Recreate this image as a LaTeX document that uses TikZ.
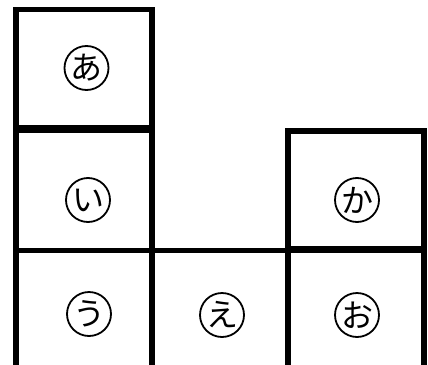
\documentclass[tikz,border=0pt]{standalone}
\usepackage{fontspec}
\newfontfamily\jpfont{Noto Sans CJK JP}
\begin{document}
\begin{tikzpicture}[x=1pt,y=-1pt,
  cell/.style={draw, line width=5.5pt, inner sep=0pt, rectangle},
  circ/.style={circle, draw, line width=1.8pt, minimum size=44pt, inner sep=0pt},
  kana/.style={inner sep=0pt, font=\jpfont\fontsize{32}{32}\selectfont}]
\useasboundingbox (0,0) rectangle (428,364);
\clip (0,0) rectangle (428,364);
% boxes
\node[cell, minimum width=136pt, minimum height=117.8pt] (boxA) at (84,68.6) {};
\node[cell, minimum width=136pt, minimum height=120pt] (boxI) at (84,190.5) {};
\node[cell, minimum width=136pt, minimum height=118pt] (boxKa) at (356,190) {};
\node[cell, minimum width=136pt, minimum height=139.5pt] (boxU) at (84,320.25) {};
\node[cell, minimum width=136pt, minimum height=139.5pt] (boxE) at (220,320.25) {};
\node[cell, minimum width=136pt, minimum height=139.5pt] (boxO) at (356,320.25) {};
% circled letters
\node[circ] (a) at (86.5,68) {};
\node[circ] (i) at (88,200) {};
\node[circ] (ka) at (357,200) {};
\node[circ] (u) at (89,314) {};
\node[circ] (e) at (222,315) {};
\node[circ] (o) at (357,315) {};
\node[kana] (ta) at (a.center) {あ};
\node[kana] (ti) at (i.center) {い};
\node[kana] (tka) at (ka.center) {か};
\node[kana] (tu) at (u.center) {う};
\node[kana] (te) at (e.center) {え};
\node[kana] (to) at (o.center) {お};
\end{tikzpicture}
\end{document}
